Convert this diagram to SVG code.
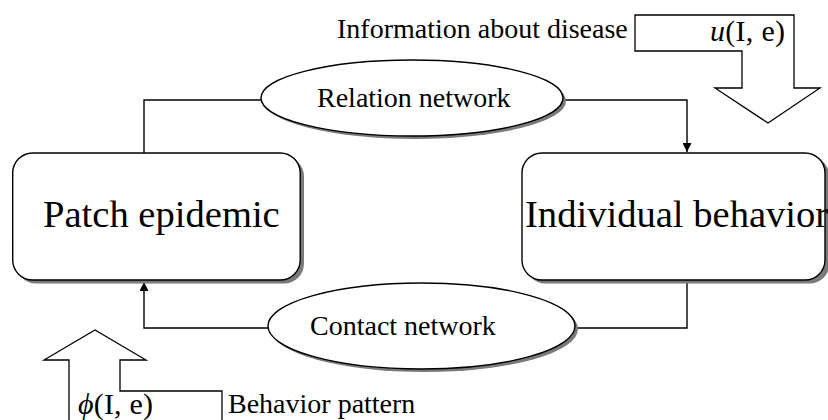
<svg xmlns="http://www.w3.org/2000/svg" width="828" height="420" viewBox="0 0 828 420">
<style>
  .node { fill: #ffffff; stroke: #000000; stroke-width: 1.4; }
  .shadow { fill: #7a7a7a; stroke: none; }
  .conn { fill: none; stroke: #000000; stroke-width: 1.4; }
  .big { font-family: "Liberation Serif", "Times New Roman", serif; font-size: 38.6px; fill: #000; }
  .lbl { font-family: "Liberation Serif", "Times New Roman", serif; font-size: 28px; fill: #000; }
  .math { font-family: "Liberation Serif", "Times New Roman", serif; font-size: 30px; fill: #000; }
  .it { font-style: italic; }
  .blk { fill: #ffffff; stroke: #000000; stroke-width: 1.3; }
</style>
<defs>
  <marker id="arr" viewBox="0 0 10 10" refX="10" refY="5" markerWidth="9" markerHeight="9" markerUnits="userSpaceOnUse" orient="auto">
    <path d="M0,0 L10,5 L0,10 Z" fill="#000"/>
  </marker>
</defs>

<g id="connectors">
  <polyline class="conn" points="144,153 144,100 261,100"/>
  <polyline class="conn" points="563,100 687,100 687,152" marker-end="url(#arr)"/>
  <polyline class="conn" points="687,280 687,328 575,328"/>
  <polyline class="conn" points="268,328 144,328 144,282" marker-end="url(#arr)"/>
</g>

<g id="patch-epidemic">
  <rect class="shadow" x="16" y="156.5" width="288" height="127" rx="20" ry="20"/>
  <rect class="node" x="12.7" y="153" width="287.5" height="127" rx="20" ry="20"/>
  <text class="big" x="43" y="227">Patch epidemic</text>
</g>

<g id="individual-behavior">
  <rect class="shadow" x="525.5" y="156.5" width="304" height="127" rx="20" ry="20"/>
  <rect class="node" x="522" y="153" width="303" height="127" rx="20" ry="20"/>
  <text class="big" x="525" y="227">Individual behavior</text>
</g>

<g id="relation-network">
  <ellipse class="shadow" cx="415" cy="101" rx="151" ry="38"/>
  <ellipse class="node" cx="412" cy="98" rx="151" ry="38"/>
  <text class="lbl" x="317" y="107">Relation network</text>
</g>

<g id="contact-network">
  <ellipse class="shadow" cx="424.5" cy="329" rx="153.5" ry="43"/>
  <ellipse class="node" cx="421.5" cy="326" rx="153.5" ry="43"/>
  <text class="lbl" x="310" y="335">Contact network</text>
</g>

<g id="information-about-disease">
  <path class="blk" d="M635,15 H794 V88 H820 L768,123 L715,88 H742 V51 H635 Z"/>
  <text class="lbl" x="337" y="38" font-size="27.4">Information about disease</text>
  <text class="math" x="710" y="41" textLength="75" lengthAdjust="spacing"><tspan class="it">u</tspan>(I, e)</text>
</g>

<g id="behavior-pattern">
  <path class="blk" d="M69,421 V360 H44 L95,330 L146,360 H120 V391 H222 V421"/>
  <text class="math" x="78" y="414" textLength="75" lengthAdjust="spacing"><tspan class="it">ϕ</tspan>(I, e)</text>
  <text class="lbl" x="228" y="413">Behavior pattern</text>
</g>
</svg>
